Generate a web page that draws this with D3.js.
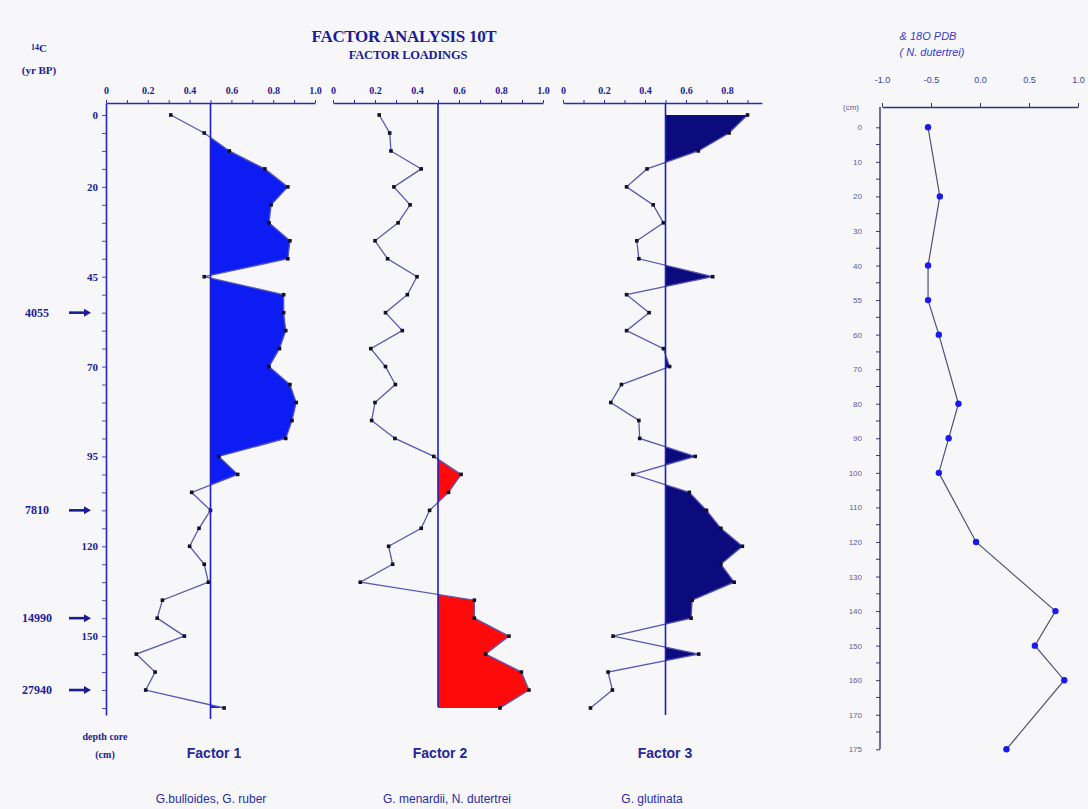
<!DOCTYPE html>
<html>
<head>
<meta charset="utf-8">
<script src="https://cdn.jsdelivr.net/npm/d3@7"></script>
<style>
  html, body { margin: 0; padding: 0; background: #f7f7f9; }
  svg { display: block; }
</style>
</head>
<body>
<svg id="chart" width="1088" height="809"></svg>
<script>
// ---- Core samples: one sample per tick on the depth axis ----
const depthTickIndex  = [0, 4, 9, 14, 19, 24, 29];
const depthTickLabels = ["0", "20", "45", "70", "95", "120", "150"];

// Radiocarbon ages (14C yr BP) and the sample they sit beside
const c14Index  = [11, 22, 28, 32];
const c14Labels = ["4055", "7810", "14990", "27940"];

// Factor loadings per sample, top to bottom
const factor1 = [0.31, 0.47, 0.59, 0.76, 0.87, 0.79, 0.78, 0.88, 0.87, 0.47,
                 0.85, 0.85, 0.86, 0.83, 0.78, 0.88, 0.91, 0.89, 0.86, 0.54,
                 0.63, 0.41, 0.50, 0.445, 0.40, 0.47, 0.49, 0.27, 0.245, 0.375,
                 0.145, 0.235, 0.19, 0.565];
const factor2 = [0.22, 0.27, 0.276, 0.42, 0.29, 0.367, 0.31, 0.20, 0.26, 0.40,
                 0.354, 0.25, 0.33, 0.18, 0.25, 0.297, 0.20, 0.184, 0.295, 0.48,
                 0.61, 0.55, 0.46, 0.42, 0.265, 0.284, 0.13, 0.673, 0.673, 0.838,
                 0.727, 0.897, 0.933, 0.795];
const factor3 = [0.90, 0.81, 0.66, 0.41, 0.31, 0.44, 0.49, 0.36, 0.37, 0.73,
                 0.31, 0.42, 0.31, 0.49, 0.52, 0.285, 0.233, 0.37, 0.374, 0.645,
                 0.341, 0.616, 0.70, 0.77, 0.875, 0.77, 0.835, 0.63, 0.625, 0.244,
                 0.662, 0.22, 0.241, 0.134];

const loadingLabels = [0, 0.2, 0.4, 0.6, 0.8, 1.0];
const threshold = 0.5;

// ---- delta 18O of N. dutertrei ----
const d18Categories = ["0", "10", "20", "30", "40", "55", "60", "70", "80", "90",
                       "100", "110", "120", "130", "140", "150", "160", "170", "175"];
const d18Depths = ["0", "20", "40", "55", "60", "80", "90", "100", "120", "140", "150", "160", "175"];
const d18Values = [-0.53, -0.41, -0.53, -0.53, -0.42, -0.22, -0.32, -0.42, -0.04, 0.77, 0.56, 0.86, 0.27];
const d18Ticks = [-1.0, -0.5, 0.0, 0.5, 1.0];

// ---------------------------------------------------------------
const svg = d3.select("#chart");
const navy = "#1c1c96";
const serif = "'Liberation Serif', 'Times New Roman', serif";
const sans = "'Liberation Sans', Arial, sans-serif";

const axisTop = 103;
const y = d3.scaleLinear().domain([0, factor1.length - 1]).range([115, 708]);
const fmtLoad = d => d === 0 ? "0" : d.toFixed(1);

// Titles
svg.append("text").attr("x", 404).attr("y", 42).attr("text-anchor", "middle")
  .attr("font-family", serif).attr("font-weight", "bold").attr("font-size", 17)
  .attr("letter-spacing", -0.3).attr("fill", navy).text("FACTOR ANALYSIS 10T");
svg.append("text").attr("x", 408).attr("y", 59).attr("text-anchor", "middle")
  .attr("font-family", serif).attr("font-weight", "bold").attr("font-size", 12.5)
  .attr("letter-spacing", -0.2).attr("fill", navy).text("FACTOR LOADINGS");

const c14 = svg.append("text").attr("x", 39).attr("y", 52).attr("text-anchor", "middle")
  .attr("font-family", serif).attr("font-weight", "bold").attr("font-size", 11).attr("fill", navy);
c14.append("tspan").attr("font-size", 8).attr("dy", -2).text("14");
c14.append("tspan").attr("dy", 2).text("C");
svg.append("text").attr("x", 39).attr("y", 74).attr("text-anchor", "middle")
  .attr("font-family", serif).attr("font-weight", "bold").attr("font-size", 11)
  .attr("fill", navy).text("(yr BP)");

// Depth axis (sample ticks, labelled at selected depths)
const yAxisScale = y.copy().domain([y.invert(axisTop), y.invert(715)]).range([axisTop, 715]);
const depthAxis = svg.append("g").attr("transform", "translate(106,0)")
  .call(d3.axisLeft(yAxisScale)
    .tickValues(d3.range(0, factor1.length))
    .tickSize(4).tickSizeOuter(0)
    .tickFormat(i => {
      const k = depthTickIndex.indexOf(i);
      return k >= 0 ? depthTickLabels[k] : "";
    }));
depthAxis.select(".domain").attr("stroke", "#2626b8").attr("stroke-width", 1.6);
depthAxis.selectAll(".tick line").attr("stroke", "#4a4ab8");
depthAxis.selectAll(".tick text").attr("font-family", serif).attr("font-weight", "bold")
  .attr("font-size", 11).attr("fill", navy).attr("x", -8);

// 14C age markers with arrows
const ageG = svg.append("g");
c14Index.forEach((idx, k) => {
  const yy = y(idx);
  ageG.append("text").attr("x", 37).attr("y", yy + 4).attr("text-anchor", "middle")
    .attr("font-family", serif).attr("font-weight", "bold").attr("font-size", 12)
    .attr("fill", navy).text(c14Labels[k]);
  ageG.append("line").attr("x1", 69).attr("x2", 84).attr("y1", yy).attr("y2", yy)
    .attr("stroke", navy).attr("stroke-width", 2.6);
  ageG.append("path").attr("d", `M84,${yy - 4}L91,${yy}L84,${yy + 4}Z`).attr("fill", navy);
});

svg.append("text").attr("x", 105).attr("y", 740).attr("text-anchor", "middle")
  .attr("font-family", serif).attr("font-weight", "bold").attr("font-size", 10)
  .attr("fill", navy).text("depth core");
svg.append("text").attr("x", 105).attr("y", 758).attr("text-anchor", "middle")
  .attr("font-family", serif).attr("font-weight", "bold").attr("font-size", 10)
  .attr("fill", navy).text("(cm)");

// Factor panels
const panels = [
  { values: factor1, x0: 106, span: 209, axisMax: 1.0, labelMax: 1.0, fill: "#0d1cf2",
    lineEnd: 719, title: "Factor 1", titleX: 214, caption: "G.bulloides, G. ruber", capX: 211 },
  { values: factor2, x0: 333, span: 210, axisMax: 1.0, labelMax: 1.0, fill: "#ff0a0a",
    lineEnd: 707, title: "Factor 2", titleX: 440, caption: "G. menardii, N. dutertrei", capX: 447 },
  { values: factor3, x0: 563, span: 205, axisMax: 0.97, labelMax: 0.8, fill: "#0b0b7e",
    lineEnd: 715, title: "Factor 3", titleX: 665, caption: "G. glutinata", capX: 652 }
];

panels.forEach((p, pi) => {
  const x = d3.scaleLinear().domain([0, p.axisMax]).range([p.x0, p.x0 + p.span * p.axisMax]);
  const g = svg.append("g");

  // top axis: minor ticks every 0.1
  const ax = g.append("g").attr("transform", `translate(0,${axisTop})`)
    .call(d3.axisTop(x).tickValues(d3.range(0, p.axisMax + 0.001, 0.1)).tickSize(3)
      .tickSizeOuter(0).tickFormat(""));
  ax.select(".domain").attr("stroke", "#2a2ab4").attr("stroke-width", 1.3);
  ax.selectAll(".tick line").attr("stroke", "#2a2ab4");

  // tick labels
  const lab = g.append("g").attr("transform", `translate(0,${axisTop})`)
    .call(d3.axisTop(x).tickValues(loadingLabels.filter(v => v <= p.labelMax + 1e-9))
      .tickSize(0).tickPadding(9).tickFormat(fmtLoad));
  lab.select(".domain").remove();
  lab.selectAll(".tick text").attr("font-family", serif).attr("font-weight", "bold")
    .attr("font-size", 10).attr("fill", navy);

  // shaded loadings above the threshold
  const clipId = "clip" + pi;
  svg.append("clipPath").attr("id", clipId).append("rect")
    .attr("x", x(threshold)).attr("y", 0).attr("width", 400).attr("height", 809);
  const area = d3.area()
    .x0(() => x(threshold)).x1(d => x(d)).y((d, i) => y(i));
  g.append("path").datum(p.values).attr("d", area)
    .attr("fill", p.fill).attr("clip-path", `url(#${clipId})`);

  // loading curve
  const line = d3.line().x(d => x(d)).y((d, i) => y(i));
  g.append("path").datum(p.values).attr("d", line)
    .attr("fill", "none").attr("stroke", "#5858b4").attr("stroke-width", 1.3);
  g.selectAll("rect.pt").data(p.values).enter().append("rect").attr("class", "pt")
    .attr("x", d => x(d) - 1.8).attr("y", (d, i) => y(i) - 1.8)
    .attr("width", 3.6).attr("height", 3.6).attr("fill", "#111122");

  // threshold line
  g.append("line").attr("x1", x(threshold)).attr("x2", x(threshold))
    .attr("y1", axisTop).attr("y2", p.lineEnd)
    .attr("stroke", "#1e1ec4").attr("stroke-width", 1.6);

  g.append("text").attr("x", p.titleX).attr("y", 758).attr("text-anchor", "middle")
    .attr("font-family", sans).attr("font-weight", "bold").attr("font-size", 14)
    .attr("fill", "#26269a").text(p.title);
  g.append("text").attr("x", p.capX).attr("y", 803).attr("text-anchor", "middle")
    .attr("font-family", sans).attr("font-size", 12)
    .attr("fill", "#2a2aa8").text(p.caption);
});

// ---- delta 18O panel ----
const rg = svg.append("g");
const xR = d3.scaleLinear().domain([-1, 1]).range([882, 1078]);
const yR = d3.scalePoint().domain(d18Categories).range([127.3, 749.3]);
const rTop = 107;

rg.append("text").attr("x", 928).attr("y", 40).attr("text-anchor", "middle")
  .attr("font-family", sans).attr("font-style", "italic").attr("font-size", 11)
  .attr("fill", "#3838c8").text("& 18O PDB");
rg.append("text").attr("x", 932).attr("y", 56).attr("text-anchor", "middle")
  .attr("font-family", sans).attr("font-style", "italic").attr("font-size", 11)
  .attr("fill", "#3838c8").text("( N. dutertrei)");

const xAx = rg.append("g").attr("transform", `translate(0,${rTop})`)
  .call(d3.axisTop(xR).tickValues(d18Ticks).tickSize(4).tickSizeOuter(0)
    .tickPadding(20).tickFormat(d => d.toFixed(1)));
xAx.select(".domain").attr("stroke", "#33337a").attr("stroke-width", 1.4);
xAx.selectAll(".tick line").attr("stroke", "#33337a");
xAx.selectAll(".tick text").attr("font-family", sans).attr("font-size", 9)
  .attr("fill", "#4040a0");

const yAx = rg.append("g").attr("transform", `translate(880,0)`)
  .call(d3.axisLeft(yR).tickSize(4).tickSizeOuter(0).tickPadding(14));
yAx.select(".domain").remove();
yAx.selectAll(".tick line").attr("stroke", "#33337a");
yAx.selectAll(".tick text").attr("font-family", sans).attr("font-size", 8)
  .attr("fill", "#5a5a9a");
rg.append("line").attr("x1", 880).attr("x2", 880).attr("y1", rTop).attr("y2", yR("175"))
  .attr("stroke", "#33337a").attr("stroke-width", 1.4);
// minor ticks halfway between categories
const mids = d3.pairs(d18Categories).map(([a, b]) => (yR(a) + yR(b)) / 2);
rg.selectAll("line.minor").data(mids).enter().append("line").attr("class", "minor")
  .attr("x1", 876).attr("x2", 880).attr("y1", d => d).attr("y2", d => d)
  .attr("stroke", "#33337a");
rg.append("text").attr("x", 851).attr("y", 110).attr("text-anchor", "middle")
  .attr("font-family", sans).attr("font-size", 8).attr("fill", "#5a5a9a").text("(cm)");

const d18 = d18Depths.map((c, i) => ({ c, v: d18Values[i] }));
rg.append("path").datum(d18)
  .attr("d", d3.line().x(d => xR(d.v)).y(d => yR(d.c)))
  .attr("fill", "none").attr("stroke", "#50507a").attr("stroke-width", 1.2);
rg.selectAll("circle.pt").data(d18).enter().append("circle").attr("class", "pt")
  .attr("cx", d => xR(d.v)).attr("cy", d => yR(d.c)).attr("r", 3.2)
  .attr("fill", "#1a1aee");
</script>
</body>
</html>
